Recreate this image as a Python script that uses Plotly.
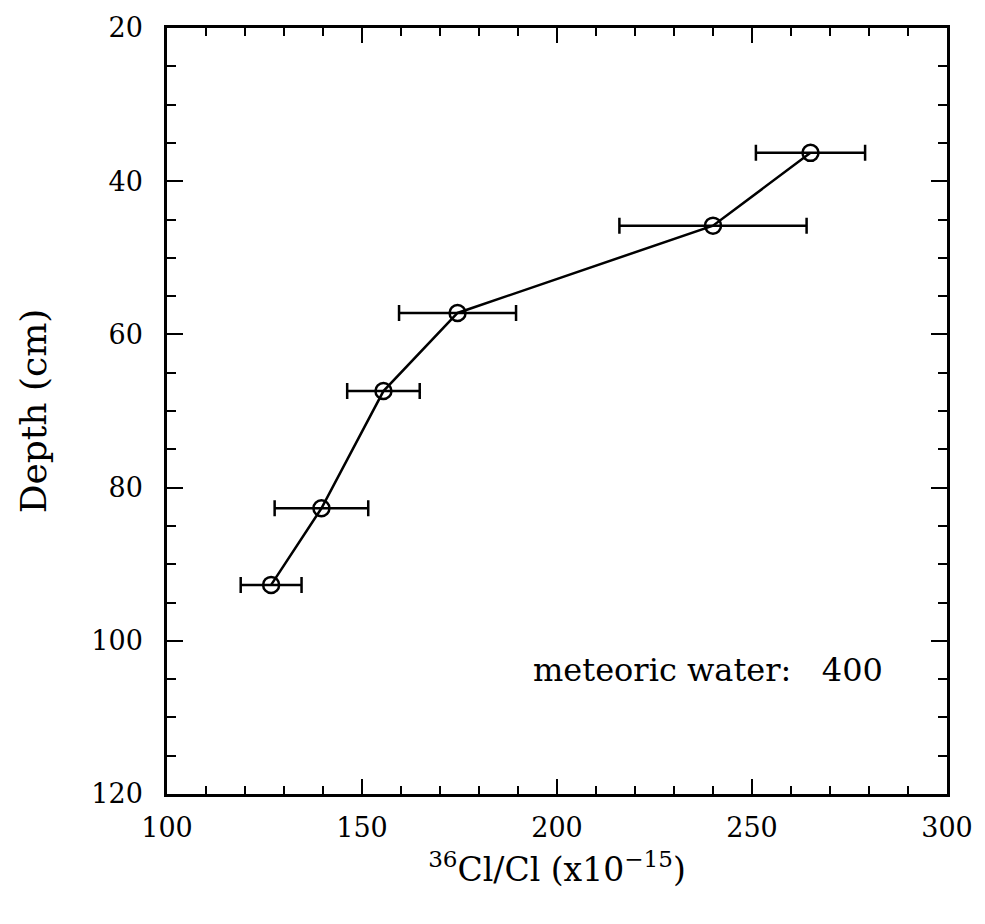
import plotly.graph_objects as go

ratio = [265, 240, 174.5, 155.5, 139.6, 126.7]
depth = [36.3, 45.8, 57.2, 67.4, 82.7, 92.7]
err = [14, 24, 15, 9.3, 12, 7.8]

x_ticks = [100, 150, 200, 250, 300]
y_ticks = [20, 40, 60, 80, 100, 120]

FONT = "DejaVu Serif"

fig = go.Figure()
fig.add_trace(go.Scatter(
    x=ratio, y=depth, mode="lines+markers",
    line=dict(color="black", width=2.5),
    marker=dict(symbol="circle-open", size=16, color="black", line=dict(width=2.5)),
    error_x=dict(type="data", array=err, color="black", thickness=2.5, width=8),
    showlegend=False,
))

fig.add_annotation(x=284, y=103.8, xref="x", yref="y", text="meteoric water:\u00a0\u00a0 400",
                   showarrow=False, xanchor="right", yanchor="middle",
                   font=dict(family=FONT, size=32, color="black"))

axis_common = dict(
    showgrid=False, zeroline=False, showline=True, linecolor="black", linewidth=2.5,
    mirror="allticks", ticks="inside", tickcolor="black", tickwidth=2,
    tickfont=dict(family=FONT, size=27, color="black"),
)

fig.update_xaxes(range=[100, 300], tickvals=x_ticks, ticklen=15,
                 minor=dict(dtick=10, ticks="inside", ticklen=8, tickwidth=2, tickcolor="black"),
                 title=dict(text="<sup>36</sup>Cl/Cl (x10<sup>\u221215</sup>)",
                            font=dict(family=FONT, size=33, color="black"), standoff=16),
                 ticklabelstandoff=8,
                 **axis_common)
fig.update_yaxes(range=[120, 20], tickvals=y_ticks, ticklen=16,
                 minor=dict(dtick=5, ticks="inside", ticklen=9, tickwidth=2, tickcolor="black"),
                 title=dict(text="Depth (cm)", font=dict(family=FONT, size=36, color="black"), standoff=34),
                 ticklabelstandoff=16,
                 **axis_common)

fig.update_layout(
    width=985, height=924,
    margin=dict(l=167, r=36, t=22, b=130),
    plot_bgcolor="white", paper_bgcolor="white",
)

fig.write_html("out.html")
